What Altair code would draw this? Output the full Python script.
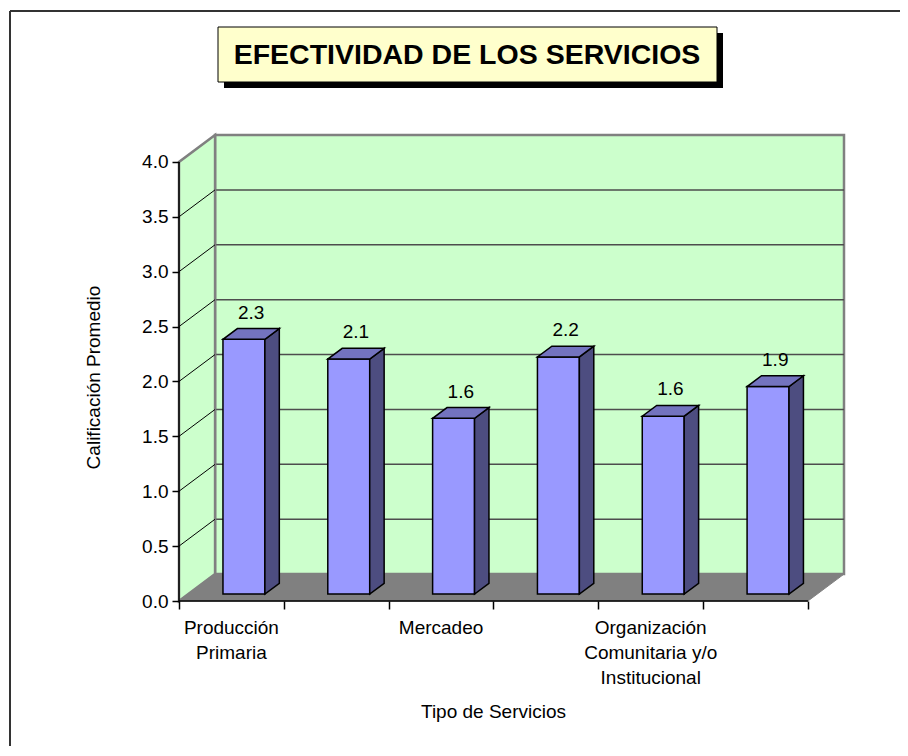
import altair as alt
import pandas as pd

# ---------------- data ----------------
title_text = "EFECTIVIDAD DE LOS SERVICIOS"
x_title = "Tipo de Servicios"
y_title = "Calificación Promedio"
# Excel skipped every second category label; only these are visible
tick_labels = ["Producción\nPrimaria", "", "Mercadeo", "",
               "Organización\nComunitaria y/o\nInstitucional", ""]
values = [2.32, 2.14, 1.60, 2.16, 1.62, 1.89]
y_ticks = [0.0, 0.5, 1.0, 1.5, 2.0, 2.5, 3.0, 3.5, 4.0]

# ---------------- geometry / style constants ----------------
N = len(values)
YMAX = 4.0
DX, DY = 0.344, 0.245      # depth of the 3-D floor, in axis units
B0, B1 = 0.26, 0.66        # front / back depth fraction of the bars
BL, BR = 0.33, 0.73        # bar left / right inside its band
W, H = 665, 466
F = "Liberation Sans"
FS = 19

xs = alt.Scale(domain=[0, N + DX], nice=False, zero=False)
ys = alt.Scale(domain=[0, YMAX + DY], nice=False, zero=False)

xaxis = alt.Axis(values=list(range(N + 1)), labels=False, domain=False, grid=False,
                 ticks=True, tickSize=8, tickColor="black", tickWidth=1.5,
                 title=x_title, titleFont=F, titleFontSize=FS, titleFontWeight="normal",
                 titleColor="black", titleX=314, titleY=110, titleAlign="center",
                 titleBaseline="middle", zindex=1)
yaxis = alt.Axis(values=y_ticks, format=".1f", domain=False, grid=False, ticks=True,
                 tickSize=7, tickColor="black", tickWidth=1.5, labelFont=F,
                 labelFontSize=FS, labelColor="black", labelPadding=4,
                 title=y_title, titleFont=F, titleFontSize=FS, titleFontWeight="normal",
                 titleColor="black", titleX=-86, titleY=242, titleAngle=270,
                 titleAlign="center", titleBaseline="middle", zindex=1)

df = pd.DataFrame({"i": list(range(N)), "v": values, "lab": tick_labels})
grid_df = pd.DataFrame({"t": y_ticks})

base = alt.Chart(df).transform_calculate(
    xl=f"datum.i + {BL} + {B0 * DX}",
    xr=f"datum.i + {BR} + {B0 * DX}",
    yb=f"{B0 * DY}",
    top=f"datum.v + {B0 * DY}",
)
bdx = (B1 - B0) * DX
bdy = (B1 - B0) * DY

one = alt.Chart(alt.Data(values=[{"a": 1}]))


def X(f):
    return alt.X(f, type="quantitative", scale=xs, axis=xaxis)


def Y(f):
    return alt.Y(f, type="quantitative", scale=ys, axis=yaxis)


# back wall
back = one.transform_calculate(
    wx1=f"{DX}", wx2=f"{N + DX}", wy1=f"{DY}", wy2=f"{YMAX + DY}"
).mark_rect(fill="#CCFFCC", stroke="#808080", strokeWidth=2.5).encode(
    x=X("wx1"), x2="wx2:Q", y=Y("wy1"), y2="wy2:Q")

grid = alt.Chart(grid_df).transform_filter(
    f"datum.t > 0 && datum.t < {YMAX}"
).transform_calculate(
    gx1=f"{DX}", gx2=f"{N + DX}", gy=f"datum.t + {DY}"
).mark_rule(color="#4d4d4d", strokeWidth=1.5).encode(
    x=X("gx1"), x2="gx2:Q", y=Y("gy"))

# left side wall
side_wall = one.transform_calculate(k0="0", k1="1").transform_fold(
    ["k0", "k1"], as_=["kk", "k"]
).transform_calculate(
    sx=f"datum.k * {DX}", sy=f"datum.k * {DY}", sy2=f"{YMAX} + datum.k * {DY}"
).mark_area(fill="#CCFFCC", stroke="#808080", strokeWidth=2.5, opacity=1).encode(
    x=X("sx"), y=Y("sy"), y2="sy2:Q")

diag = alt.Chart(grid_df).transform_filter(
    f"datum.t > 0 && datum.t < {YMAX}"
).transform_calculate(
    dx1="0", dx2=f"{DX}", dy1="datum.t", dy2=f"datum.t + {DY}"
).mark_rule(color="black", strokeWidth=1).encode(
    x=X("dx1"), x2="dx2:Q", y=Y("dy1"), y2="dy2:Q")

# floor
floor = one.transform_calculate(k0="0", k1="1", k2="2", k3="3").transform_fold(
    ["k0", "k1", "k2", "k3"], as_=["kk", "k"]
).transform_calculate(
    fx=f"datum.k == 0 ? 0 : datum.k == 1 ? {DX} : datum.k == 2 ? {N} : {N + DX}",
    fy=f"datum.k < 3 ? 0 : {DY}",
    fy2=f"datum.k == 0 ? 0 : {DY}",
).mark_area(fill="#808080", stroke="#808080", strokeWidth=1, opacity=1).encode(
    x=X("fx"), y=Y("fy"), y2="fy2:Q")

front = base.mark_rect(fill="#9999FF", stroke="black", strokeWidth=1.5).encode(
    x=X("xl"), x2="xr:Q", y=Y("yb"), y2="top:Q")

side = base.transform_calculate(k0="0", k1="1").transform_fold(
    ["k0", "k1"], as_=["kk", "k"]
).transform_calculate(
    sx=f"datum.xr + datum.k * {bdx}",
    sy=f"datum.top + datum.k * {bdy}",
    sy2=f"datum.yb + datum.k * {bdy}",
).mark_area(fill="#4D4D80", stroke="black", strokeWidth=1.5, opacity=1,
            strokeJoin="miter").encode(
    x=X("sx"), y=Y("sy"), y2="sy2:Q", detail="i:N")

topf = base.transform_calculate(k0="0", k1="1", k2="2", k3="3").transform_fold(
    ["k0", "k1", "k2", "k3"], as_=["kk", "k"]
).transform_calculate(
    tx=f"datum.k == 0 ? datum.xl : datum.k == 1 ? datum.xl + {bdx} : datum.k == 2 ? datum.xr : datum.xr + {bdx}",
    ty=f"datum.k < 3 ? datum.top : datum.top + {bdy}",
    ty2=f"datum.k == 0 ? datum.top : datum.top + {bdy}",
).mark_area(fill="#7373BF", stroke="black", strokeWidth=1.5, opacity=1,
            strokeJoin="miter").encode(
    x=X("tx"), y=Y("ty"), y2="ty2:Q", detail="i:N")

vlabels = base.transform_calculate(
    lx=f"(datum.xl + datum.xr) / 2 + {bdx / 2}",
    ly=f"datum.top + {bdy}",
).mark_text(font=F, fontSize=FS, color="black", baseline="alphabetic", dy=-10).encode(
    x=X("lx"), y=Y("ly"), text=alt.Text("v:Q", format=".1f"))

clabels = base.transform_calculate(cx="datum.i + 0.5", cy="0").mark_text(
    font=F, fontSize=FS, color="black", baseline="top", align="center", dy=18,
    lineHeight=25, lineBreak="\n").encode(
    x=X("cx"), y=Y("cy"), text="lab:N")

axes_lines = one.transform_calculate(a0="0", ay1=f"{YMAX}").mark_rule(
    color="black", strokeWidth=1.5).encode(x=X("a0"), y=Y("a0"), y2="ay1:Q")
xaxis_line = one.transform_calculate(a0="0", ax1=f"{N}").mark_rule(
    color="black", strokeWidth=1.5).encode(x=X("a0"), x2="ax1:Q", y=Y("a0"))

# title box with shadow
shadow = one.mark_rect(fill="black").encode(
    x=alt.value(45), x2=alt.value(544), y=alt.value(-102), y2=alt.value(-47))
box = one.mark_rect(fill="#FFFFCC", stroke="black", strokeWidth=1).encode(
    x=alt.value(39), x2=alt.value(538), y=alt.value(-108), y2=alt.value(-53))
title = one.mark_text(font=F, fontSize=28.5, fontWeight="bold", color="black",
                      align="center", baseline="middle").encode(
    x=alt.value(288), y=alt.value(-80), text=alt.value(title_text))

# outer chart border (only top and left are inside the picture)
border_l = one.mark_rule(color="#333333", strokeWidth=2).encode(
    x=alt.value(-169), y=alt.value(-124), y2=alt.value(H + 300))
border_t = one.mark_rule(color="#333333", strokeWidth=2).encode(
    x=alt.value(-169), x2=alt.value(W + 300), y=alt.value(-124))

chart = alt.layer(
    back, grid, side_wall, diag, floor, front, side, topf, vlabels, clabels,
    axes_lines, xaxis_line, shadow, box, title, border_l, border_t
).properties(
    width=W, height=H,
    autosize=alt.AutoSizeParams(type="none"),
    padding={"left": 171, "top": 127, "right": 56, "bottom": 145},
    background="white",
).configure_view(strokeWidth=0)

chart.save("out.html", embed_options={"renderer": "svg", "actions": False})
